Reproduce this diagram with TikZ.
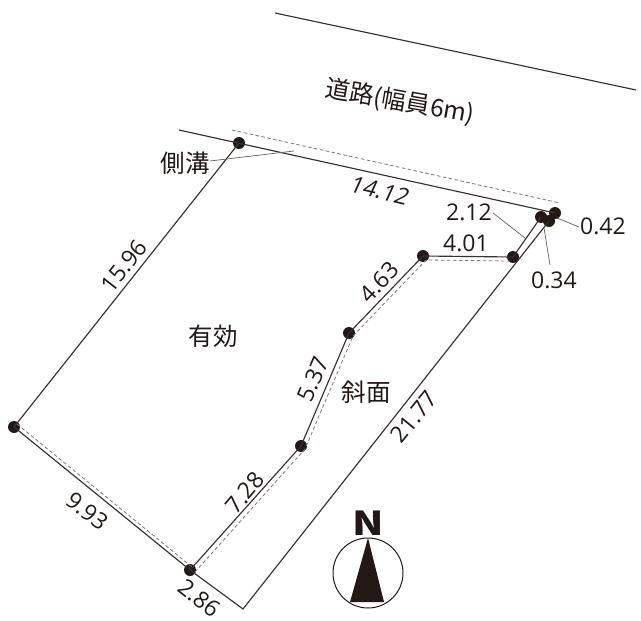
\documentclass[tikz,border=0pt]{standalone}
\usepackage{fontspec}
\setmainfont{Noto Sans CJK JP}
\newfontfamily\latinf{Open Sans}
\definecolor{ink}{HTML}{231815}
\definecolor{dashc}{HTML}{7A7775}
\tikzset{
 dotn/.style={circle,fill=ink,inner sep=0pt,minimum size=12pt},
 lotline/.style={draw=ink!90,line width=1.15pt},
 thinline/.style={draw=ink!70,line width=.7pt},
 dashline/.style={draw=dashc,line width=.8pt,dash pattern=on 3.5pt off 2.5pt},
 jp/.style={text=ink,font=\fontsize{24.5}{24.5}\selectfont,inner sep=0pt},
 num/.style={text=ink,font=\latinf\fontsize{23}{23}\selectfont,inner sep=0pt},
}
\begin{document}
\begin{tikzpicture}[x=1pt,y=-1pt]
\useasboundingbox (0,0) rectangle (641,621);
% points
\node[dotn] (A) at (239,143) {};
\node[dotn] (B) at (14,427) {};
\node[dotn] (C) at (190,570) {};
\node[dotn] (D) at (301,446) {};
\node[dotn] (E) at (349,333) {};
\node[dotn] (F) at (423,256) {};
\node[dotn] (G) at (513,257) {};
\node[dotn] (H) at (541,217) {};
\node[dotn] (I) at (549,221) {};
\node[dotn] (J) at (555,213) {};
\coordinate (K) at (243,609);
\coordinate (L1) at (179,130);
\coordinate (R1) at (275,13);
\coordinate (R2) at (636,90);
% lot
\path[lotline] (L1) -- (J.center);
\path[lotline] (A.center) -- (B.center) -- (C.center) -- (D.center) -- (E.center) -- (F.center) -- (G.center) -- (H.center);
\path[lotline] (C.center) -- (K) -- (I.center);
\path[lotline] (R1) -- (R2);
% dashed offsets
\coordinate (d1) at (232,130); \coordinate (d2) at (560,203);
\path[dashline] (d1) -- (d2);
\coordinate (d3) at (17,424); \coordinate (d4) at (192,567);
\path[dashline] (d3) -- (d4);
\coordinate (d5) at (195,572); \coordinate (d6) at (305,449); \coordinate (d7) at (353,336);
\coordinate (d8) at (426,260); \coordinate (d9) at (510,261);
\path[dashline] (d5) -- (d6) -- (d7) -- (d8) -- (d9);
% leaders
\coordinate (s1) at (210,161); \coordinate (s2) at (294,151);
\path[thinline] (s1) -- (s2);
\coordinate (a1) at (493,213); \coordinate (a2) at (525,238);
\path[thinline] (a1) -- (a2);
\coordinate (b1) at (557,218); \coordinate (b2) at (579,227);
\path[thinline] (b1) -- (b2);
\coordinate (c1) at (544,228); \coordinate (c2) at (550,265);
\path[thinline] (c1) -- (c2);
% labels
\node[jp,rotate=-10] (road) at (400,102) {道路(幅員6m)};
\node[jp] (sokko) at (185,163) {側溝};
\node[jp] (yuko) at (213,336) {有効};
\node[jp] (shamen) at (366,392) {斜面};
\node[num,rotate=-13,xslant=.2] (n1) at (380,191) {14.12};
\node[num,rotate=52] (n2) at (124,266) {15.96};
\node[num,rotate=-38] (n3) at (87,511) {9.93};
\node[num,rotate=-38] (n4) at (199,598) {2.86};
\node[num,rotate=50] (n5) at (245,493) {7.28};
\node[num,rotate=67] (n6) at (313,379) {5.37};
\node[num,rotate=46] (n7) at (379,282) {4.63};
\node[num,rotate=51] (n8) at (414,417) {21.77};
\node[num] (n9) at (466,243) {4.01};
\node[num] (n10) at (469,212) {2.12};
\node[num] (n11) at (603,226) {0.42};
\node[num] (n12) at (554,280) {0.34};
% north mark
\node[circle,draw=ink,line width=1pt,minimum size=70pt,inner sep=0pt] (comp) at (368,573) {};
\coordinate (t1) at (368,538); \coordinate (t2) at (350,602); \coordinate (t3) at (384,602);
\fill[ink] (t1) -- (t2) -- (t3) -- cycle;
\node[text=ink,font=\fontsize{33}{33}\selectfont\bfseries,inner sep=0pt,xscale=1.25] (north) at (368,523) {N};
\end{tikzpicture}
\end{document}
